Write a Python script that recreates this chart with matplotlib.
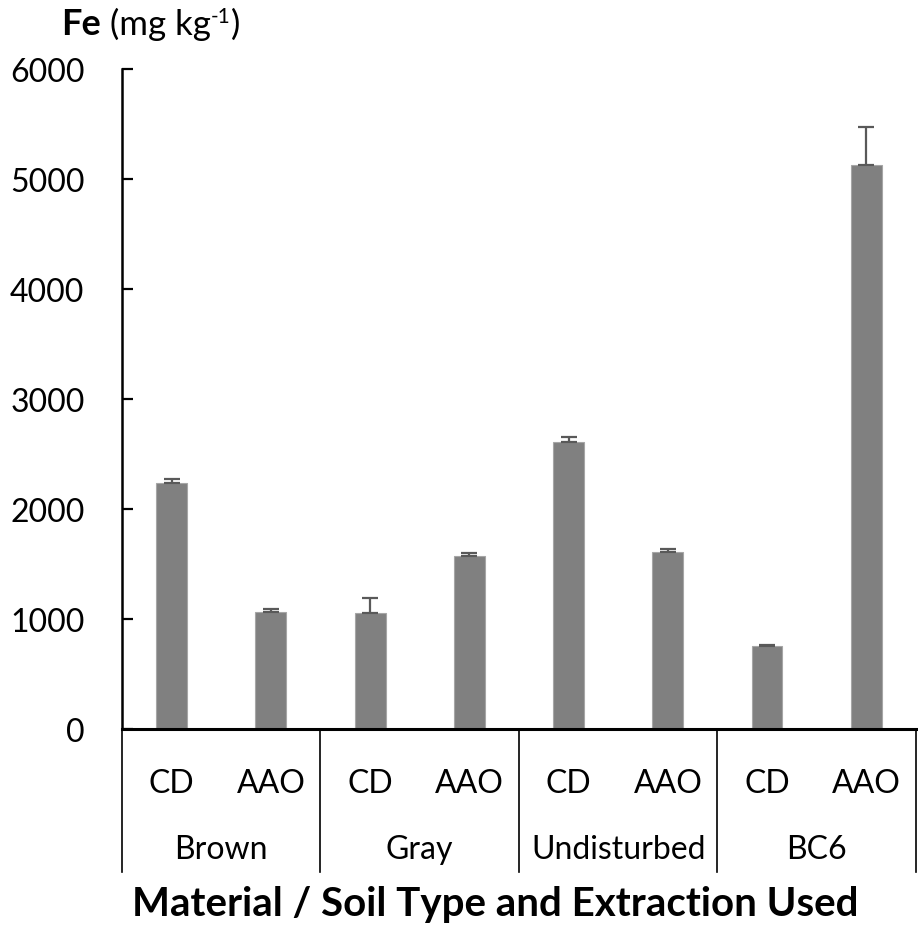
import numpy as np
import matplotlib.pyplot as plt
from matplotlib.transforms import blended_transform_factory

plt.rcParams['font.family'] = ['Lato', 'DejaVu Sans']

groups = ['Brown', 'Gray', 'Undisturbed', 'BC6']
extractions = ['CD', 'AAO']
fe_mean = [2235, 1060, 1052, 1570, 2610, 1605, 752, 5125]
fe_err = [40, 27, 142, 30, 42, 28, 15, 345]
y_ticks = [0, 1000, 2000, 3000, 4000, 5000, 6000]

labels = [e for g in groups for e in extractions]
x = np.arange(len(labels))

fig = plt.figure(figsize=(9.18, 9.28), dpi=100)
ax = fig.add_axes([0.1329, 0.2134, 0.8649, 0.7112])

ax.bar(x, fe_mean, width=0.31, color='#808080', edgecolor='#a6a6a6', linewidth=0.8,
       yerr=[np.zeros(len(fe_err)), fe_err], capsize=6,
       error_kw={'ecolor': '#595959', 'elinewidth': 1.6, 'capthick': 1.6})

ax.set_xlim(-0.5, len(labels) - 0.5)
ax.set_ylim(0, 6000)
ax.set_yticks(y_ticks)
ax.tick_params(axis='y', direction='in', length=8, width=1.6, labelsize=23, pad=27)
ax.set_xticks(x)
ax.set_xticklabels(labels)
ax.tick_params(axis='x', length=0, labelsize=23, pad=28)

for side in ['top', 'right']:
    ax.spines[side].set_visible(False)
ax.spines['left'].set_linewidth(1.8)
ax.spines['bottom'].set_linewidth(2.2)

# group boxes under the axis
trans = blended_transform_factory(ax.transData, ax.transAxes)
for b in np.arange(-0.5, len(labels), 2):
    ax.plot([b, b], [0, -0.217], transform=trans, color='black', lw=1.2, clip_on=False)
for i, g in enumerate(groups):
    ax.text(2 * i + 0.5, -0.182, g, transform=trans, ha='center', va='center', fontsize=23)

fig.text(0.54, 0.025, 'Material / Soil Type and Extraction Used', fontsize=29,
         fontweight='bold', ha='center', va='center')

# unit label: Fe (mg kg-1) with superscript
t1 = fig.text(0.067, 0.962, 'Fe', fontsize=26, fontweight='bold', ha='left', va='baseline')
t2 = ax.annotate(' (mg kg', xy=(1, 0), xycoords=t1, va='bottom', ha='left', fontsize=25,
                 annotation_clip=False)
t3 = ax.annotate('-1', xy=(1, 0.42), xycoords=t2, va='bottom', ha='left', fontsize=15,
                 annotation_clip=False)
ax.annotate(')', xy=(1, 0), xycoords=(t3, t2), va='bottom', ha='left', fontsize=25,
            annotation_clip=False)

fig.savefig('out.png')
